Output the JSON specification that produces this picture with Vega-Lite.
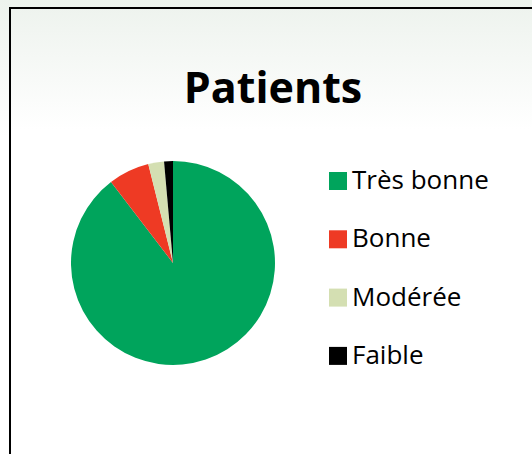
{
  "$schema": "https://vega.github.io/schema/vega-lite/v6.json",
  "width": 204,
  "height": 204,
  "autosize": {"type": "none"},
  "padding": {"left": 71, "top": 161, "right": 257, "bottom": 89},
  "background": "#ffffff",
  "config": {"view": {"stroke": null}},
  "title": {
    "text": "Patients",
    "font": "Open Sans",
    "fontSize": 43,
    "fontWeight": "bold",
    "color": "#000000",
    "anchor": "middle",
    "frame": "group",
    "baseline": "alphabetic",
    "offset": 0,
    "dy": 146,
    "dx": 100
  },
  "data": {
    "values": [
      {"categorie": "Très bonne", "valeur": 89.6, "rang": 1},
      {"categorie": "Bonne", "valeur": 6.5, "rang": 2},
      {"categorie": "Modérée", "valeur": 2.5, "rang": 3},
      {"categorie": "Faible", "valeur": 1.4, "rang": 4}
    ]
  },
  "layer": [
    {
      "mark": {
        "type": "rect",
        "strokeWidth": 0,
        "fill": {
          "gradient": "linear",
          "x1": 0, "y1": 0, "x2": 0, "y2": 1,
          "stops": [
            {"offset": 0, "color": "#edf3ed"},
            {"offset": 0.3, "color": "#ffffff"},
            {"offset": 1, "color": "#ffffff"}
          ]
        }
      },
      "encoding": {
        "x": {"value": -71},
        "x2": {"value": 461},
        "y": {"value": -161},
        "y2": {"value": 293}
      }
    },
    {
      "mark": {
        "type": "rect",
        "stroke": "#000000",
        "strokeWidth": 2,
        "fill": {
          "gradient": "linear",
          "x1": 0, "y1": 0, "x2": 0, "y2": 1,
          "stops": [
            {"offset": 0, "color": "#eef3ee"},
            {"offset": 0.22, "color": "#ffffff"},
            {"offset": 1, "color": "#ffffff"}
          ]
        }
      },
      "encoding": {
        "x": {"value": -61},
        "x2": {"value": 600},
        "y": {"value": -153},
        "y2": {"value": 400}
      }
    },
    {
      "mark": {"type": "arc", "outerRadius": 102, "strokeWidth": 0},
      "encoding": {
        "theta": {"field": "valeur", "type": "quantitative", "stack": true},
        "order": {"field": "rang", "type": "quantitative"},
        "color": {
          "field": "categorie",
          "type": "nominal",
          "scale": {
            "domain": ["Très bonne", "Bonne", "Modérée", "Faible"],
            "range": ["#00a45c", "#ee3a24", "#d4dfb2", "#000000"]
          },
          "legend": {
            "title": null,
            "orient": "none",
            "legendX": 254,
            "legendY": 7,
            "padding": 0,
            "symbolType": "square",
            "symbolSize": 324,
            "symbolStrokeWidth": 0,
            "symbolOpacity": 1,
            "labelFont": "Open Sans",
            "labelFontSize": 26,
            "labelColor": "#000000",
            "labelOffset": 1,
            "rowPadding": 32.3
          }
        }
      }
    }
  ]
}
